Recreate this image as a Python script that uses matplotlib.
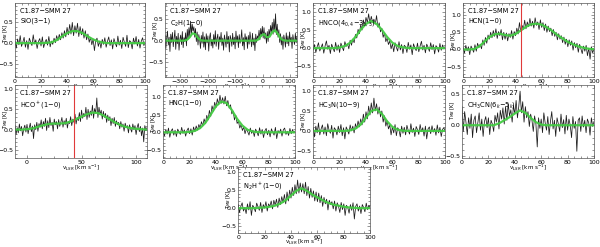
import numpy as np
import matplotlib
matplotlib.use("Agg")
import matplotlib.pyplot as plt
from matplotlib.ticker import MultipleLocator, AutoMinorLocator
from matplotlib.transforms import blended_transform_factory

source = "C1.87\u2212SMM 27"

# ---- channel grids (km/s) ----
v_100 = np.arange(0, 101, 1.0)        # 0..100 km/s, 1 km/s channels
v_c2h = np.arange(-355, 126, 3.0)     # wide C2H band
v_hcop = np.arange(-11, 111, 1.0)     # HCO+ band
v_fit = np.arange(0, 101, 4.0)        # fit sampling
v_fit_c2h = np.arange(-355, 126, 10.0)
v_fit_hcop = np.arange(-10, 111, 5.0)

# ---- SiO(3-1) ----
sio_tmb = [0.05, -0.12, 0.10, -0.04, 0.18, -0.08, 0.02, 0.14, -0.10, 0.06,
           -0.15, 0.12, 0.03, -0.06, 0.20, -0.02, 0.08, -0.13, 0.04, 0.11,
           -0.07, 0.15, -0.11, 0.02, 0.09, -0.05, 0.16, -0.09, 0.05, -0.03,
           0.12, 0.01, 0.18, 0.06, 0.21, 0.08, 0.25, 0.12, 0.30, 0.15,
           0.38, 0.20, 0.45, 0.22, 0.50, 0.18, 0.42, 0.24, 0.48, 0.16,
           0.40, 0.20, 0.35, 0.12, 0.30, 0.08, 0.22, 0.02, 0.14, -0.04,
           0.10, -0.18, 0.06, 0.12, -0.08, 0.05, -0.12, 0.09, -0.03, 0.13,
           -0.10, 0.04, 0.15, -0.06, 0.08, -0.14, 0.11, 0.00, -0.09, 0.17,
           -0.05, 0.07, -0.13, 0.14, 0.02, -0.08, 0.19, -0.11, 0.06, 0.03,
           -0.14, 0.12, -0.02, 0.16, -0.07, 0.09, -0.12, 0.05, 0.13, -0.06,
           0.04]
sio_fit = [0, 0, 0, 0, 0, 0, 0.005, 0.02, 0.07, 0.16, 0.24, 0.29, 0.29,
           0.24, 0.16, 0.09, 0.04, 0.01, 0, 0, 0, 0, 0, 0, 0, 0]

# ---- C2H(1-0) ----
c2h_tmb = [0.12, -0.18, 0.05, 0.22, -0.10, 0.08, -0.25, 0.15, -0.04, 0.19,
           -0.14, 0.06, 0.24, -0.20, 0.10, -0.07, 0.17, -0.22, 0.03, 0.13,
           -0.09, 0.21, -0.16, 0.07, -0.02, 0.18, -0.12, 0.26, 0.04, 0.30,
           0.10, 0.45, 0.15, 0.38, 0.22, 0.32, 0.08, 0.28, -0.02, 0.20,
           -0.10, 0.14, 0.02, -0.18, 0.12, -0.06, 0.20, -0.15, 0.09, -0.21,
           0.16, -0.05, 0.11, -0.24, 0.07, 0.18, -0.12, 0.03, -0.17, 0.14,
           -0.08, 0.23, -0.13, 0.05, 0.15, -0.20, 0.09, -0.03, 0.19, -0.11,
           0.06, -0.22, 0.13, 0.01, -0.15, 0.21, -0.07, 0.10, -0.26, 0.12,
           0.04, -0.13, 0.17, -0.09, 0.08, -0.19, 0.22, -0.04, 0.11, -0.16,
           0.14, -0.06, 0.03, 0.25, -0.12, 0.07, -0.21, 0.16, -0.02, 0.09,
           -0.18, 0.12, -0.08, 0.20, 0.02, -0.14, 0.17, -0.10, 0.06, -0.23,
           0.15, -0.04, 0.11, 0.05, 0.24, 0.02, 0.28, 0.10, 0.33, 0.06,
           0.30, 0.04, 0.18, -0.06, 0.21, -0.02, 0.26, 0.12, 0.35, 0.18,
           0.42, 0.15, 0.50, 0.20, 0.62, 0.14, 0.38, 0.08, 0.25, -0.04,
           0.16, -0.10, 0.09, -0.20, 0.13, 0.02, -0.15, 0.18, -0.07, 0.11,
           -0.12, 0.20, -0.03, 0.08, -0.18, 0.14, 0.00, -0.09, 0.17, -0.05,
           0.10]
c2h_fit = [0, 0, 0, 0, 0, 0, 0, 0, 0.02, 0.08, 0.17, 0.15, 0.06, 0.01,
           0, 0, 0, 0, 0, 0, 0, 0, 0, 0, 0, 0, 0, 0, 0, 0, 0, 0, 0, 0,
           0.03, 0.12, 0.15, 0.08, 0.09, 0.20, 0.24, 0.16, 0.05, 0.01,
           0, 0, 0, 0, 0]

# ---- HNCO(4_04-3_03) ----
hnco_tmb = [-0.05, 0.10, -0.12, 0.04, 0.15, -0.08, 0.02, 0.12, -0.14, 0.06,
            0.20, -0.03, 0.08, -0.15, 0.11, 0.00, -0.10, 0.16, -0.06, 0.09,
            -0.12, 0.14, 0.03, -0.07, 0.18, 0.05, 0.12, -0.02, 0.22, 0.08,
            0.25, 0.15, 0.38, 0.28, 0.52, 0.40, 0.65, 0.50, 0.78, 0.62,
            0.85, 0.70, 0.95, 0.68, 0.88, 0.72, 0.80, 0.66, 0.90, 0.58,
            0.70, 0.45, 0.55, 0.30, 0.42, 0.18, 0.28, 0.10, 0.20, -0.02,
            0.12, -0.10, 0.15, 0.02, -0.08, 0.18, -0.05, 0.10, -0.15, 0.08,
            0.04, -0.12, 0.16, -0.03, 0.09, -0.18, 0.12, 0.01, -0.07, 0.14,
            -0.10, 0.06, 0.19, -0.05, 0.08, -0.13, 0.11, 0.03, -0.09, 0.15,
            -0.04, 0.10, -0.16, 0.07, 0.02, -0.11, 0.13, -0.06, 0.09, -0.02,
            0.05]
hnco_fit = [0, 0, 0, 0, 0, 0.02, 0.06, 0.15, 0.31, 0.51, 0.67, 0.75, 0.67,
            0.51, 0.31, 0.15, 0.06, 0.02, 0.005, 0, 0, 0, 0, 0, 0, 0]

# ---- HCN(1-0) ----
hcn_tmb = [0.05, -0.10, 0.12, -0.04, 0.08, -0.15, 0.10, 0.02, -0.08, 0.14,
           -0.05, 0.18, 0.06, 0.15, 0.02, 0.28, 0.12, 0.35, 0.18, 0.42,
           0.30, 0.50, 0.34, 0.55, 0.38, 0.60, 0.32, 0.52, 0.40, 0.58,
           0.28, 0.50, 0.30, 0.48, 0.25, 0.46, 0.35, 0.55, 0.30, 0.52,
           0.40, 0.62, 0.45, 0.78, 0.52, 0.70, 0.58, 0.85, 0.60, 0.80,
           0.66, 0.90, 0.68, 0.82, 0.62, 0.92, 0.70, 0.80, 0.58, 0.86,
           0.64, 0.78, 0.55, 0.74, 0.50, 0.68, 0.52, 0.62, 0.40, 0.58,
           0.38, 0.50, 0.28, 0.46, 0.30, 0.40, 0.20, 0.36, 0.15, 0.30,
           0.08, 0.28, 0.12, 0.25, -0.02, 0.20, 0.05, 0.18, -0.08, 0.15,
           0.02, -0.12, 0.10, -0.05, 0.12, -0.18, 0.04, -0.28, 0.08, -0.10,
           0.02]
hcn_fit = [0, 0, 0.01, 0.08, 0.22, 0.36, 0.44, 0.46, 0.42, 0.40, 0.45, 0.55,
           0.66, 0.73, 0.75, 0.72, 0.64, 0.54, 0.42, 0.32, 0.22, 0.15, 0.09,
           0.05, 0.02, 0.01]

# ---- HCO+(1-0) ----
hcop_tmb = [0.10, -0.12, 0.05, -0.08, 0.14, -0.03, 0.08, -0.15, 0.02, 0.11,
            -0.06, 0.13, -0.10, 0.04, 0.16, -0.05, 0.09, -0.22, 0.12, 0.00,
            0.18, -0.04, 0.15, 0.06, 0.24, 0.02, 0.20, 0.08, 0.28, -0.02,
            0.22, 0.05, 0.30, 0.10, 0.18, -0.04, 0.26, 0.12, 0.20, 0.02,
            0.25, 0.08, 0.18, 0.30, 0.06, 0.22, 0.12, 0.28, 0.04, 0.20,
            0.15, 0.32, 0.10, 0.26, 0.18, 0.38, 0.14, 0.30, 0.22, 0.42,
            0.20, 0.48, 0.28, 0.40, 0.32, 0.55, 0.25, 0.50, 0.30, 0.46,
            0.35, 0.60, 0.28, 0.52, 0.40, 0.78, 0.30, 0.55, 0.38, 0.48,
            0.26, 0.45, 0.30, 0.40, 0.18, 0.36, 0.22, 0.32, 0.10, 0.28,
            0.15, 0.30, 0.08, 0.22, 0.12, 0.18, 0.02, 0.20, 0.06, 0.14,
            -0.04, 0.16, 0.05, 0.10, -0.08, 0.12, 0.02, -0.06, 0.14, 0.00,
            0.10, -0.12, 0.06, 0.15, -0.05, 0.08, -0.15, 0.04, -0.30, 0.10,
            -0.02, 0.05]
hcop_fit = [0, 0, 0.01, 0.03, 0.07, 0.11, 0.14, 0.15, 0.15, 0.16, 0.20, 0.26,
            0.32, 0.38, 0.42, 0.41, 0.35, 0.27, 0.19, 0.12, 0.07, 0.04, 0.02,
            0.01, 0]

# ---- HNC(1-0) ----
hnc_tmb = [0.02, -0.10, 0.08, -0.05, 0.12, -0.14, 0.04, 0.10, -0.08, 0.06,
           -0.12, 0.09, 0.01, -0.06, 0.14, -0.03, 0.07, -0.11, 0.05, 0.12,
           -0.04, 0.10, -0.08, 0.15, 0.02, 0.18, 0.06, 0.22, 0.12, 0.30,
           0.18, 0.38, 0.25, 0.48, 0.35, 0.62, 0.45, 0.75, 0.60, 0.85,
           0.70, 0.95, 0.78, 1.05, 0.82, 0.98, 0.80, 1.02, 0.75, 0.90,
           0.68, 0.78, 0.52, 0.60, 0.35, 0.48, 0.25, 0.32, 0.12, 0.22,
           0.05, 0.15, -0.04, 0.10, 0.02, -0.08, 0.12, -0.03, 0.06, -0.12,
           0.09, 0.01, -0.10, 0.13, -0.05, 0.08, -0.15, 0.04, 0.11, -0.07,
           0.06, -0.13, 0.10, 0.00, -0.08, 0.14, -0.18, 0.05, -0.02, 0.09,
           -0.11, 0.07, 0.12, -0.06, 0.03, -0.09, 0.11, -0.04, 0.08, -0.02,
           0.04]
hnc_fit = [0, 0, 0, 0, 0, 0.01, 0.04, 0.12, 0.27, 0.50, 0.74, 0.87, 0.83,
           0.63, 0.38, 0.19, 0.07, 0.02, 0.005, 0, 0, 0, 0, 0, 0, 0]

# ---- HC3N(10-9) ----
hc3n_tmb = [0.08, -0.15, 0.12, -0.05, 0.20, -0.10, 0.05, 0.15, -0.08, 0.10,
            -0.12, 0.18, 0.02, -0.06, 0.14, -0.18, 0.08, 0.03, -0.10, 0.12,
            -0.04, 0.16, -0.12, 0.08, -0.20, 0.10, 0.02, -0.08, 0.15, 0.00,
            0.12, -0.05, 0.18, 0.06, 0.25, 0.10, 0.30, 0.15, 0.42, 0.22,
            0.48, 0.30, 0.62, 0.40, 0.70, 0.45, 0.82, 0.50, 0.68, 0.42,
            0.60, 0.35, 0.50, 0.22, 0.38, 0.12, 0.25, 0.05, 0.15, -0.10,
            0.10, -0.05, 0.16, -0.12, 0.08, 0.02, -0.15, 0.12, -0.06, 0.09,
            -0.10, 0.14, 0.01, -0.08, 0.18, -0.04, 0.07, -0.14, 0.11, 0.03,
            -0.09, 0.16, -0.02, 0.08, -0.13, 0.12, -0.20, 0.05, 0.10, -0.07,
            0.13, -0.03, 0.06, -0.11, 0.15, -0.05, 0.09, -0.14, 0.04, 0.08,
            -0.02]
hc3n_fit = [0, 0, 0, 0, 0, 0, 0, 0.014, 0.056, 0.16, 0.33, 0.50, 0.54, 0.43,
            0.24, 0.10, 0.03, 0.006, 0, 0, 0, 0, 0, 0, 0, 0]

# ---- CH3CN(6_k-5_k) ----
ch3cn_tmb = [0.30, -0.10, 0.22, 0.05, -0.15, 0.12, -0.05, 0.18, -0.20, 0.08,
             0.15, -0.12, 0.04, 0.20, -0.08, 0.10, -0.18, 0.06, 0.14, -0.04,
             0.12, -0.15, 0.08, 0.02, -0.10, 0.16, 0.05, 0.20, -0.06, 0.24,
             0.10, 0.28, 0.02, 0.30, 0.08, 0.35, 0.15, 0.25, 0.05, 0.32,
             0.18, 0.40, 0.12, 0.30, 0.55, 0.20, 0.38, 0.05, 0.30, 0.12,
             0.22, -0.02, 0.18, 0.08, -0.10, 0.15, 0.02, -0.35, 0.12, -0.05,
             0.10, -0.12, 0.20, 0.04, -0.08, 0.14, -0.15, 0.06, 0.22, -0.06,
             0.08, -0.18, 0.12, 0.02, -0.10, 0.18, -0.04, 0.09, -0.14, 0.16,
             -0.08, 0.10, 0.00, -0.20, 0.14, -0.05, 0.06, -0.42, 0.08, 0.12,
             -0.10, 0.15, -0.03, 0.08, -0.12, 0.10, 0.04, -0.16, 0.12, -0.02,
             0.06]
ch3cn_fit = [0, 0, 0, 0, 0, 0, 0, 0.03, 0.08, 0.13, 0.19, 0.24, 0.20, 0.12,
             0.05, 0.01, 0, 0, 0, 0, 0, 0, 0, 0, 0, 0]

# ---- N2H+(1-0) ----
n2hp_tmb = [0.10, -0.12, 0.05, 0.15, -0.08, 0.02, -0.15, 0.12, -0.05, 0.18,
            -0.20, 0.08, 0.02, -0.10, 0.14, 0.04, -0.06, 0.16, -0.12, 0.10,
            0.00, 0.18, -0.08, 0.12, 0.05, 0.20, -0.02, 0.22, 0.08, 0.25,
            0.02, 0.28, 0.10, 0.32, 0.15, 0.38, 0.12, 0.45, 0.20, 0.50,
            0.28, 0.58, 0.35, 0.65, 0.40, 0.78, 0.42, 0.70, 0.45, 0.68,
            0.40, 0.72, 0.35, 0.60, 0.28, 0.55, 0.30, 0.48, 0.20, 0.45,
            0.18, 0.42, 0.15, 0.35, 0.05, 0.30, 0.12, 0.25, -0.05, 0.22,
            0.10, 0.18, -0.02, 0.20, -0.08, 0.15, 0.05, -0.12, 0.16, -0.04,
            0.12, -0.20, 0.08, 0.02, -0.14, 0.10, -0.06, 0.15, -0.30, 0.05,
            0.12, -0.08, 0.06, -0.15, 0.10, 0.02, -0.10, 0.14, -0.04, 0.08,
            0.00]
n2hp_fit = [0, 0, 0, 0, 0.01, 0.02, 0.04, 0.07, 0.13, 0.22, 0.35, 0.48, 0.55,
            0.48, 0.38, 0.30, 0.22, 0.15, 0.10, 0.07, 0.04, 0.02, 0.01, 0, 0, 0]

lines = ["SiO(3\u22121)", "C$_2$H(1\u22120)", "HNCO(4$_{0,4}$\u22123$_{0,3}$)",
         "HCN(1\u22120)", "HCO$^+$(1\u22120)", "HNC(1\u22120)",
         "HC$_3$N(10\u22129)", "CH$_3$CN(6$_k$\u22125$_k$)", "N$_2$H$^+$(1\u22120)"]
vlsr_red = [None, None, None, 44, 43, None, None, None, None]

# axes positions in figure fraction (left, bottom, width, height)
boxes = [(0.025, 0.688, 0.217, 0.300), (0.275, 0.688, 0.220, 0.300),
         (0.522, 0.688, 0.220, 0.300), (0.772, 0.688, 0.218, 0.300),
         (0.025, 0.360, 0.220, 0.296), (0.272, 0.360, 0.220, 0.296),
         (0.522, 0.360, 0.220, 0.296), (0.770, 0.360, 0.220, 0.296),
         (0.397, 0.058, 0.220, 0.264)]
xlims = [(0, 100), (-355, 125), (0, 100), (0, 100), (-11, 110),
         (0, 100), (0, 100), (0, 100), (0, 100)]
ylims = [(-0.82, 0.97), (-0.84, 0.87), (-0.8, 1.25), (-0.8, 1.35), (-0.7, 1.1),
         (-0.73, 1.34), (-0.68, 1.15), (-0.53, 0.65), (-0.68, 1.13)]
xmajor = [20, 100, 20, 20, 50, 20, 20, 20, 20]

spectra = [(v_100, sio_tmb, v_fit, sio_fit),
           (v_c2h, c2h_tmb, v_fit_c2h, c2h_fit),
           (v_100, hnco_tmb, v_fit, hnco_fit),
           (v_100, hcn_tmb, v_fit, hcn_fit),
           (v_hcop, hcop_tmb, v_fit_hcop, hcop_fit),
           (v_100, hnc_tmb, v_fit, hnc_fit),
           (v_100, hc3n_tmb, v_fit, hc3n_fit),
           (v_100, ch3cn_tmb, v_fit, ch3cn_fit),
           (v_100, n2hp_tmb, v_fit, n2hp_fit)]

fs = 4.5
fig = plt.figure(figsize=(6.0, 2.47), dpi=100)

for i in range(9):
    ax = fig.add_axes(boxes[i])
    v, tmb, vf, fit = spectra[i]
    ax.plot(v, tmb, color='#1a1a1a', lw=0.55)
    ax.plot(vf, fit, color='#44cc44', lw=1.6, alpha=0.95)
    if vlsr_red[i] is not None:
        ax.axvline(vlsr_red[i], color='#e03a3a', lw=0.8)
    ax.set_xlim(xlims[i])
    ax.set_ylim(ylims[i])
    ax.xaxis.set_major_locator(MultipleLocator(xmajor[i]))
    ax.yaxis.set_major_locator(MultipleLocator(0.5))
    ax.xaxis.set_minor_locator(AutoMinorLocator(4))
    ax.yaxis.set_minor_locator(AutoMinorLocator(5))
    ax.tick_params(which='both', direction='in', top=True, right=True,
                   width=0.4, labelsize=fs, pad=1.5, color='#444444')
    ax.tick_params(which='major', length=2.5)
    ax.tick_params(which='minor', length=1.2)
    for s in ax.spines.values():
        s.set_linewidth(0.5)
        s.set_color('#555555')
    ax.set_xlabel("v$_{LSR}$ [km s$^{-1}$]", fontsize=fs - 0.4)
    ax.xaxis.set_label_coords(0.5, -0.065)
    # y label sits in the tick-label column, between the 0 and 0.5 labels
    ax.set_ylabel("T$_{MB}$ [K]", fontsize=fs - 0.8)
    ax.yaxis.set_label_coords(-0.04, 0.25,
                              transform=blended_transform_factory(ax.transAxes, ax.transData))
    ax.text(0.04, 0.93, source, transform=ax.transAxes, fontsize=fs + 0.3,
            va='top', ha='left')
    ax.text(0.04, 0.80, lines[i], transform=ax.transAxes, fontsize=fs + 0.3,
            va='top', ha='left')

fig.savefig("out.png", dpi=100)
